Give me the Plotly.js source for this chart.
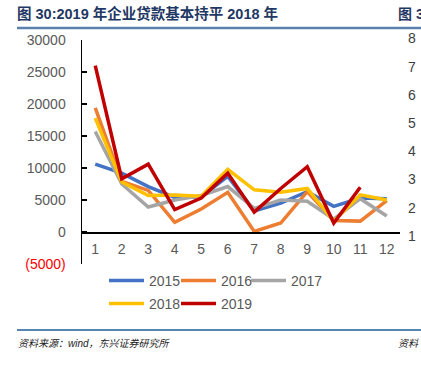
<!DOCTYPE html>
<html>
<head>
<meta charset="utf-8">
<script src="https://cdn.plot.ly/plotly-3.0.1.min.js"></script>
<style>html,body{margin:0;padding:0;background:#fff;}#chart{width:421px;height:365px;}</style>
</head>
<body>
<div id="chart"></div>
<script>
// ---- data ----
const months = ["1","2","3","4","5","6","7","8","9","10","11","12"];
const s2015 = [10600, 9200, 7100, 5400, 5500, 8700, 3300, 4500, 6300, 4000, 5300, 5200];
const s2016 = [19400, 7900, 6500, 1500, 3600, 6200, 100, 1400, 6300, 1800, 1700, 4900];
const s2017 = [15700, 7500, 3900, 5000, 5700, 7100, 3700, 5000, 4800, 2000, 5200, 2500];
const s2018 = [17800, 7800, 5700, 5800, 5600, 9800, 6600, 6200, 6800, 1700, 5800, 5000];
const s2019 = [26000, 8300, 10600, 3500, 5300, 9200, 3100, 6800, 10200, 1400, 7000, null];
const seriesNames = ["2015","2016","2017","2018","2019"];
const yTickVals = [-5000, 0, 5000, 10000, 15000, 20000, 25000, 30000];
const yTickText = ["<span style='color:#FF0000'>(5000)</span>", "0", "5000", "10000", "15000", "20000", "25000", "30000"];
const rightPanelTicks = ["8","7","6","5","4","3","2","1"];
const titleText = "图 30:2019 年企业贷款基本持平 2018 年";
const sourceText = "资料来源：wind，东兴证券研究所";

const colors = ["#4472C4", "#ED7D31", "#A5A5A5", "#FFC000", "#C00000"];
const allSeries = [s2015, s2016, s2017, s2018, s2019];
const FONT = "Liberation Sans, Arial, Noto Sans CJK SC, sans-serif";
const legendIds = ["legend", "legend2", "legend3", "legend4", "legend5"];

const traces = allSeries.map((s, i) => ({
  type: "scatter",
  mode: "lines",
  x: months,
  y: s,
  name: seriesNames[i],
  line: {color: colors[i], width: 3.5},
  legend: legendIds[i],
  hoverinfo: "skip"
}));

// geometry helpers (pixel -> paper)
const W = 421, H = 365, L = 82, R = 21, T = 40, B = 101;
const pw = W - L - R, ph = H - T - B;
const px = x => (x - L) / pw;
const py = y => (H - B - y) / ph;

const rightYs = [38, 66.5, 94.5, 122.5, 151, 179, 207.5, 236];
const annotations = rightPanelTicks.map((t, i) => ({
  text: t, xref: "paper", yref: "paper", x: px(406), y: py(rightYs[i]),
  xanchor: "left", yanchor: "middle", showarrow: false,
  font: {family: FONT, size: 14, color: "#404040"}
}));
annotations.push({
  text: "<b>图 3</b>", xref: "paper", yref: "paper", x: px(396), y: py(14),
  xanchor: "left", yanchor: "middle", showarrow: false,
  font: {family: FONT, size: 14, color: "#1F3864"}
});
annotations.push({
  text: "<i>" + sourceText + "</i>", xref: "paper", yref: "paper", x: px(16), y: py(343),
  xanchor: "left", yanchor: "middle", showarrow: false,
  font: {family: FONT, size: 10, color: "#222222"}
});
annotations.push({
  text: "<i>资料</i>", xref: "paper", yref: "paper", x: px(396), y: py(343),
  xanchor: "left", yanchor: "middle", showarrow: false,
  font: {family: FONT, size: 10, color: "#222222"}
});

const shapes = [
  {type: "line", xref: "paper", yref: "paper", x0: px(17), x1: px(421), y0: py(28), y1: py(28),
   line: {color: "#5B82AD", width: 2.5}},
  {type: "line", xref: "paper", yref: "paper", x0: px(17), x1: px(421), y0: py(330), y1: py(330),
   line: {color: "#1F5C99", width: 1.5}}
];

// legend entry positions (pixel of line start, row centre)
const legendPos = [[110, 281], [182, 281], [252, 281], [110, 304], [182, 304]];

const layout = {
  width: W, height: H,
  margin: {l: L, r: R, t: T, b: B, pad: 0},
  paper_bgcolor: "#ffffff", plot_bgcolor: "#ffffff",
  font: {family: FONT, size: 14, color: "#595959"},
  title: {
    text: "<b>" + titleText + "</b>",
    xref: "container", yref: "container",
    x: 17 / W, xanchor: "left", y: 1 - 14 / H, yanchor: "middle",
    font: {family: FONT, size: 14.5, color: "#1F3864"}
  },
  xaxis: {
    type: "category", range: [-0.5, 11.5],
    anchor: "free", position: 5000 / 35000,
    showline: true, linecolor: "#000000", linewidth: 1.5,
    ticks: "", showgrid: false, zeroline: false,
    tickfont: {family: FONT, size: 14, color: "#595959"},
    ticklabelstandoff: 4, fixedrange: true
  },
  yaxis: {
    range: [-5000, 30000],
    tickvals: yTickVals, ticktext: yTickText,
    showline: true, linecolor: "#000000", linewidth: 1.5,
    ticks: "inside", ticklen: 5, tickwidth: 1.5, tickcolor: "#000000",
    showgrid: false, zeroline: false,
    tickfont: {family: FONT, size: 14, color: "#595959"},
    ticklabelstandoff: 12, fixedrange: true
  },
  showlegend: true,
  annotations: annotations,
  shapes: shapes
};
legendIds.forEach((id, i) => {
  layout[id] = {
    orientation: "h", x: px(legendPos[i][0] - 6), y: py(legendPos[i][1]),
    xanchor: "left", yanchor: "middle",
    font: {family: FONT, size: 14, color: "#595959"},
    bgcolor: "rgba(0,0,0,0)", itemwidth: 35
  };
});

Plotly.newPlot("chart", traces, layout, {displayModeBar: false, staticPlot: true});
</script>
</body>
</html>
